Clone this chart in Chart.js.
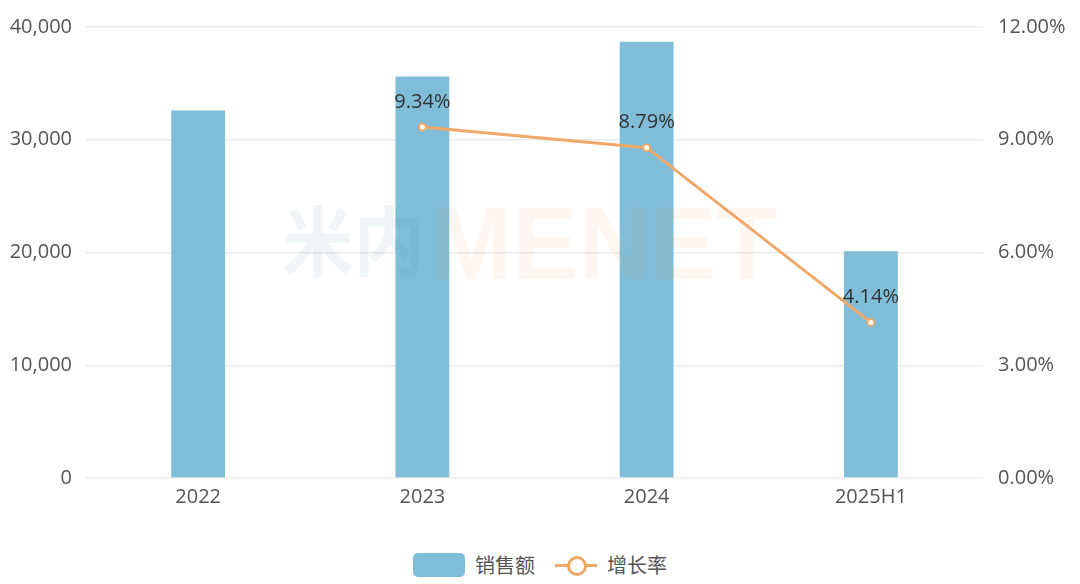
<!DOCTYPE html>
<html><head><meta charset="utf-8">
<script src="https://cdn.jsdelivr.net/npm/chart.js@4.4.1/dist/chart.umd.min.js"></script>
<style>
html,body{margin:0;padding:0;background:#fff;width:1080px;height:584px;overflow:hidden;}
#wrap{position:absolute;left:0;top:0;width:1080px;height:520px;}
#legend{position:absolute;top:550px;left:0;width:1080px;display:flex;justify-content:center;align-items:center;font-family:"Noto Sans CJK SC","Open Sans",sans-serif;font-size:20px;color:#555;}
.item{display:flex;align-items:center;}
.box{width:52px;height:24px;border-radius:5px;background:#7fbdd9;margin-right:10px;}
.ln{position:relative;width:42px;height:24px;margin-right:10px;margin-left:20px;}
.ln .bar{position:absolute;left:0;top:11px;width:42px;height:3px;background:#f0a868;}
.ln .dot{position:absolute;left:12px;top:3px;width:14px;height:14px;border:3px solid #f0a868;border-radius:50%;background:#fff;}
</style></head>
<body>
<div id="wrap"><canvas id="c" width="1080" height="520"></canvas></div>
<div id="legend">
  <div class="item"><div class="box"></div><span>销售额</span></div>
  <div class="item"><div class="ln"><div class="bar"></div><div class="dot"></div></div><span>增长率</span></div>
</div>
<script>
const categories = ["2022","2023","2024","2025H1"];
const salesValues = [32600, 35600, 38700, 20100];
const growthValues = [null, 9.34, 8.79, 4.14];
const salesLabel = "销售额";
const growthLabel = "增长率";

const FONT = '"Open Sans","Noto Sans CJK SC",sans-serif';

const watermark = {
  id:'watermark',
  afterDatasetsDraw(chart){
    const ctx = chart.ctx;
    ctx.save();
    ctx.textBaseline = 'middle';
    ctx.textAlign = 'left';
    ctx.font = 'bold 76px "Noto Sans CJK SC", sans-serif';
    ctx.fillStyle = 'rgba(60,130,150,0.08)';
    const w1 = ctx.measureText('米内').width;
    ctx.save();
    ctx.translate(282, 241);
    ctx.scale(143 / w1, 1);
    ctx.fillText('米内', 0, 0);
    ctx.restore();
    ctx.font = 'bold 104px "Liberation Sans", "DejaVu Sans", sans-serif';
    ctx.fillStyle = 'rgba(240,150,80,0.08)';
    ctx.textBaseline = 'alphabetic';
    const w2 = ctx.measureText('MENET').width;
    ctx.translate(430, 279);
    ctx.scale(347 / w2, 1);
    ctx.fillText('MENET', 0, 0);
    ctx.restore();
  }
};

const dataLabels = {
  id:'dataLabels',
  afterDatasetsDraw(chart){
    const ctx = chart.ctx;
    const meta = chart.getDatasetMeta(1);
    ctx.save();
    ctx.font = '20px ' + FONT;
    ctx.fillStyle = '#333';
    ctx.textAlign = 'center';
    ctx.textBaseline = 'middle';
    meta.data.forEach((pt,i)=>{
      const v = growthValues[i];
      if (v === null) return;
      ctx.fillText(v.toFixed(2)+'%', pt.x, pt.y - 25);
    });
    ctx.restore();
  }
};

new Chart(document.getElementById('c'), {
  data: {
    labels: categories,
    datasets: [
      {type:'bar', label:salesLabel, data:salesValues, backgroundColor:'#7fbdd9', yAxisID:'y', order:2,
       categoryPercentage:0.8, barPercentage:0.3},
      {type:'line', label:growthLabel, data:growthValues, yAxisID:'y1', order:1,
       borderColor:'#f0a868', borderWidth:3, pointRadius:3.5, pointBorderWidth:2,
       pointBackgroundColor:'#fff', pointBorderColor:'#f0a868', tension:0, spanGaps:false}
    ]
  },
  options: {
    responsive:false, animation:false,
    layout:{padding:{top:26,bottom:0,left:0,right:0}},
    plugins:{legend:{display:false}, tooltip:{enabled:false}},
    scales:{
      x:{
        grid:{display:false, drawTicks:false},
        border:{display:false},
        ticks:{color:'#555', font:{family:FONT,size:20}, padding:7},
        afterFit(s){ s.height = 42; }
      },
      y:{
        position:'left', min:0, max:40000,
        ticks:{stepSize:10000, color:'#555', font:{family:FONT,size:20}, padding:14,
               callback:v=>v.toLocaleString('en-US')},
        grid:{color:'#ebebeb', lineWidth:1.5, drawTicks:false},
        border:{display:false},
        afterFit(s){ s.width = 86; }
      },
      y1:{
        position:'right', min:0, max:12,
        ticks:{stepSize:3, color:'#555', font:{family:FONT,size:20}, padding:15,
               callback:v=>v.toFixed(2)+'%'},
        grid:{display:false, drawTicks:false},
        border:{display:false},
        afterFit(s){ s.width = 97; }
      }
    }
  },
  plugins:[watermark, dataLabels]
});
</script>
</body></html>
